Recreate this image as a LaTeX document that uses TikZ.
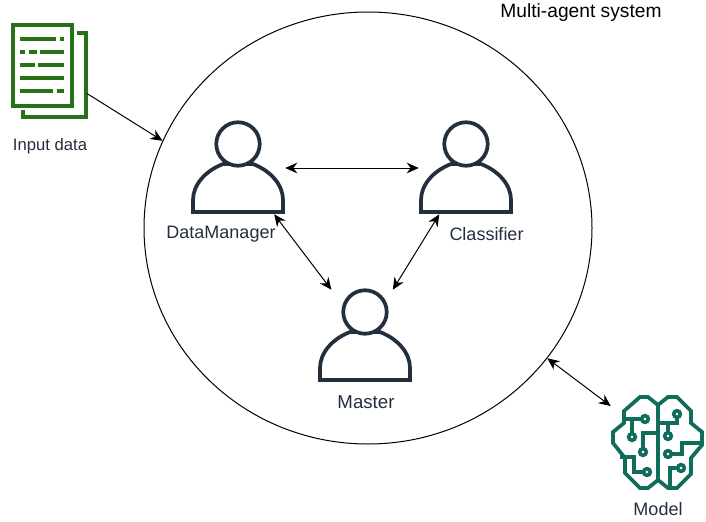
\documentclass[tikz,border=0pt]{standalone}
\usepackage{fontspec}
\setmainfont{Liberation Sans}
\usetikzlibrary{shapes.geometric,arrows.meta}
\definecolor{slate}{HTML}{232F3E}
\definecolor{docgreen}{HTML}{277116}
\definecolor{brainteal}{HTML}{116D5B}
\tikzstyle{iconbox}=[rectangle, inner sep=0pt, minimum width=70.5pt, minimum height=69pt]
\tikzstyle{lbl}=[inner sep=0pt, text=slate, font=\fontsize{13.5pt}{15pt}\selectfont]
\tikzstyle{link}=[line width=0.75pt, <->, >={Stealth[length=9pt,width=8pt]}]
\tikzstyle{chip}=[brainteal, line width=2.7pt, fill=white]
\tikzset{
  pics/person/.style={code={
    \draw[slate, line width=2.8pt, line join=miter, fill=white] (-45,44) -- (-45,32) .. controls (-45,17) and (-33,3) .. (-15,-4) -- (15,-4) .. controls (33,3) and (45,17) .. (45,32) -- (45,44) -- cycle;
    \draw[slate, line width=2.8pt, fill=white] (0,-24) circle (16.3pt);
  }},
  pics/pages/.style={code={
    \draw[docgreen, line width=3pt] (27.5,-38) -- (36.5,-38) -- (36.5,46) -- (-26.5,46) -- (-26.5,39);
    \draw[docgreen, line width=3pt] (-37,-46) rectangle (22.5,35);
    \foreach \ya/\xa/\xb in {-32/-29.5/6, -32/10/14.5, -19/-29.5/-24.5, -19/-20.5/-12.5, -19/-9.5/14.5, -6/-29.5/-15, -6/-11.5/14.5, 7/-29.5/14.5, 20/-29.5/3, 20/7/14.5}
      \draw[docgreen, line width=2.4pt] (\xa,\ya) -- (\xb,\ya);
  }},
  pics/brain/.style={code={
    \begin{scope}[shift={(-658,-443)}]
    \draw[brainteal, line width=2.8pt, line join=miter] (658,405) -- (648,397) -- (640,397) -- (624,411) -- (624,423) -- (613,432) -- (613,443) -- (625,458) -- (625,473) -- (640,488) -- (648,488) -- (658,480) -- (668,488) -- (677,488) -- (691,474) -- (691,458) -- (702,445) -- (702,432) -- (691,423) -- (691,411) -- (677,397) -- (668,397) -- cycle;
    \draw[brainteal, line width=2.8pt] (658,405) -- (658,480);
    \draw[brainteal, line width=2.8pt] (624,419) -- (642,419) (632,419) -- (632,433);
    \draw[brainteal, line width=2.8pt] (643,452) -- (643,433) -- (658,433);
    \draw[brainteal, line width=2.8pt] (647,472) -- (634,472) -- (634,457) -- (620,457);
    \draw[brainteal, line width=2.8pt] (677,414) -- (677,423) -- (658,423);
    \draw[brainteal, line width=2.8pt] (668,436) -- (668,423);
    \draw[brainteal, line width=2.8pt] (668,454) -- (682,454) -- (682,443) -- (702,443);
    \draw[brainteal, line width=2.8pt] (681,468) -- (670,468) -- (670,486);
    \foreach \cx/\cy in {645/419, 632/437, 643/452, 647/472, 677/414, 668/436, 668/454, 681/468}
      \draw[chip] (\cx,\cy) circle (2.5pt);
    \end{scope}
  }}
}
\begin{document}
\begin{tikzpicture}[x=0.75pt,y=-0.75pt]
\useasboundingbox (0,0) rectangle (706,521);

\node[ellipse, draw, line width=0.75pt, inner sep=0pt, minimum width=336pt, minimum height=324pt] (sys) at (368,228) {};
\node[lbl, text=black, font=\fontsize{14.4pt}{16pt}\selectfont] (syslbl) at (581,13) {Multi-agent system};

\node[iconbox, minimum width=56.25pt, minimum height=70.5pt] (doc) at (49.5,71) {};
\pic at (doc) {pages};
\node[lbl, font=\fontsize{12.5pt}{15pt}\selectfont] (doclbl) at (50,146) {Input data};

\node[iconbox] (dm) at (238,168) {};
\pic at (dm) {person};
\node[lbl] (dmlbl) at (221,234) {DataManager};

\node[iconbox] (cl) at (466,168) {};
\pic at (cl) {person};
\node[lbl] (cllbl) at (486.5,234) {Classifier};

\node[iconbox] (ma) at (365,336) {};
\pic at (ma) {person};
\node[lbl, font=\fontsize{14pt}{15pt}\selectfont] (malbl) at (366,402) {Master};

\node[iconbox] (mo) at (658,443) {};
\pic at (mo) {brain};
\node[lbl] (molbl) at (658,509) {Model};

\draw[link, <-] (sys.157) -- (doc.-31.5);
\draw[link] (dm.east) -- (cl.west);
\draw[link] (dm.-52) -- (ma.126);
\draw[link] (cl.-120) -- (ma.59);
\draw[link] (sys.-36.5) -- (mo.142);
\end{tikzpicture}
\end{document}
